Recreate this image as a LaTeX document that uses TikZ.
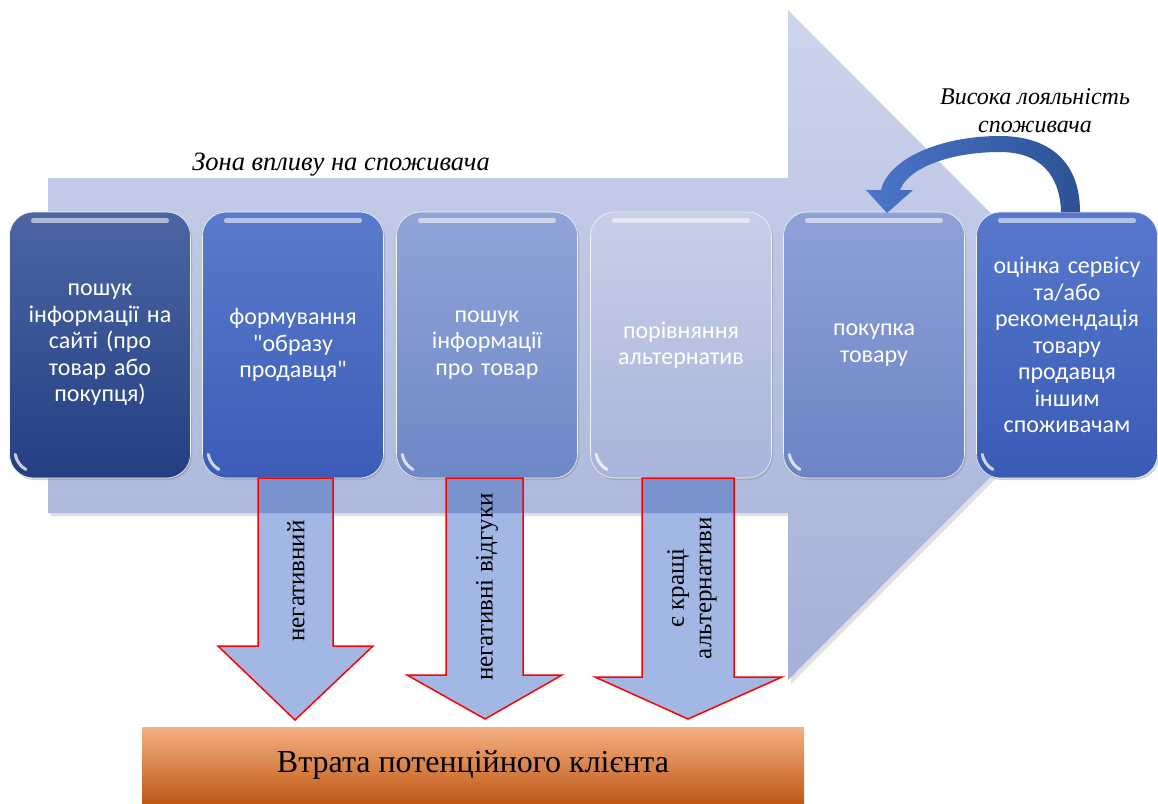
\documentclass[tikz,border=0pt]{standalone}
\usepackage{fontspec}
\setmainfont{Liberation Serif}
\newfontfamily\boxfont{Carlito}
\usetikzlibrary{shadows}
\definecolor{arrTop}{HTML}{CDD4EC}
\definecolor{arrBot}{HTML}{A3B0D8}
\definecolor{b1t}{HTML}{4C66A4}\definecolor{b1b}{HTML}{233F82}
\definecolor{b2t}{HTML}{5A7ACB}\definecolor{b2b}{HTML}{3B5DB8}
\definecolor{b3t}{HTML}{91A4D8}\definecolor{b3b}{HTML}{6E87C7}
\definecolor{b4t}{HTML}{C8CFE8}\definecolor{b4b}{HTML}{A8B4DA}
\definecolor{b5t}{HTML}{8FA1D7}\definecolor{b5b}{HTML}{6C84C6}
\definecolor{b6t}{HTML}{5778CD}\definecolor{b6b}{HTML}{395BB5}
\definecolor{dnFill}{HTML}{A2B7E3}
\definecolor{dnOver}{HTML}{7A93CE}
\definecolor{lossT}{HTML}{F4B183}
\definecolor{lossM}{HTML}{EB8844}
\definecolor{lossB}{HTML}{BF5816}
\definecolor{curL}{HTML}{4B75CA}
\definecolor{curR}{HTML}{2D5294}
\newcommand\bigarrowpath{(48,178) -- (788,178) -- (788,10) -- (1122,345) -- (788,680) -- (788,513) -- (48,513) -- cycle}
\newcommand\dnA[1]{\path[#1] (258,478) -- (258,646) -- (218,646) -- (295,720) -- (373,646) -- (333,646) -- (333,478) -- cycle;}
\newcommand\dnB[1]{\path[#1] (446,478) -- (446,675) -- (407,675) -- (485,719) -- (562,675) -- (523,675) -- (523,478) -- cycle;}
\newcommand\dnC[1]{\path[#1] (642,478) -- (642,677) -- (595,677) -- (688,719) -- (782,677) -- (734,677) -- (734,478) -- cycle;}
\tikzset{
  stage/.style={rounded corners=24pt, minimum width=181pt, minimum height=266pt,
    inner sep=0pt, text width=170pt, align=center, text=white,
    font=\boxfont\fontsize{24}{26.5}\selectfont,
    draw=white!60!black!10, line width=0.6pt,
    drop shadow={opacity=0.35, shadow xshift=1.5pt, shadow yshift=-2pt}},
  dnlabel/.style={rotate=90, align=center, text=black, font=\fontsize{25}{27.5}\selectfont},
  italabel/.style={align=center, text=black, font=\itshape\fontsize{24}{28}\selectfont},
  lossbox/.style={minimum width=662pt, minimum height=76pt, inner sep=0pt,
    top color=lossT, middle color=lossM, bottom color=lossB,
    font=\fontsize{32}{36}\selectfont, text=black},
  gloss/.style={white, line width=4.5pt, opacity=0.55, line cap=round}
}
\begin{document}
\begin{tikzpicture}[x=1pt,y=-1pt]
\useasboundingbox (0,0) rectangle (1158,803);
% big arrow
\path[fill=black, opacity=0.12] (51,181) -- (791,181) -- (791,14) -- (1126,348) -- (791,684) -- (791,516) -- (51,516) -- cycle;
\path[top color=arrTop, bottom color=arrBot] \bigarrowpath;

\node[italabel, font=\itshape\fontsize{26.5}{30}\selectfont] (zone) at (341,165) {Зона впливу на споживача};
\node[italabel] (loyal) at (1035,111) {Висока лояльність\\споживача};

% stages
\node[stage, top color=b1t, bottom color=b1b] (s1) at (100,345) {пошук\\інформації на\\сайті (про\\товар або\\покупця)};
\node[stage, top color=b2t, bottom color=b2b] (s2) at (293,345) {формування\\"образу\\продавця"};
\node[stage, top color=b3t, bottom color=b3b] (s3) at (487,345) {пошук\\інформації\\про товар};
\node[stage, top color=b4t, bottom color=b4b] (s4) at (681,345) {порівняння\\альтернатив};
\node[stage, top color=b5t, bottom color=b5b] (s5) at (874,345) {покупка\\товару};
\node[stage, top color=b6t, bottom color=b6b] (s6) at (1067,345) {оцінка сервісу\\та/або\\рекомендація\\товару\\продавця\\іншим\\споживачам};
\foreach \s in {s1,s2,s3,s4,s5,s6}{
  \draw[gloss] ([xshift=24pt,yshift=-9pt]\s.north west) -- ([xshift=-24pt,yshift=-9pt]\s.north east);
  \draw[white, line width=3pt, opacity=0.75, line cap=round] ([xshift=6pt,yshift=24pt]\s.south west) arc[start angle=190, end angle=240, radius=22pt];
}

% curved arrow
\path[left color=curL, right color=curR]
  (1080,212) .. controls (1080,158) and (1045,136) .. (1000,136)
  .. controls (938,136) and (888,160) .. (881,190)
  -- (866,190) -- (887,213) -- (913,190) -- (900,190)
  .. controls (908,168) and (950,152) .. (1000,152)
  .. controls (1040,152) and (1060,175) .. (1061,212) -- cycle;

% down arrows
\dnA{fill=dnFill}
\dnB{fill=dnFill}
\dnC{fill=dnFill}
\begin{scope}
  \clip \bigarrowpath;
  \dnA{fill=dnOver}
  \dnB{fill=dnOver}
  \dnC{fill=dnOver}
\end{scope}
\dnA{draw=red, line width=1.5pt, line join=miter}
\dnB{draw=red, line width=1.5pt, line join=miter}
\dnC{draw=red, line width=1.5pt, line join=miter}

\node[dnlabel] (n1) at (296,581) {негативний};
\node[dnlabel] (n2) at (487,587) {негативні відгуки};
\node[dnlabel] (n3) at (692,588) {є кращі\\альтернативи};

\node[lossbox] (loss) at (473,765) {Втрата потенційного клієнта};
\end{tikzpicture}
\end{document}
